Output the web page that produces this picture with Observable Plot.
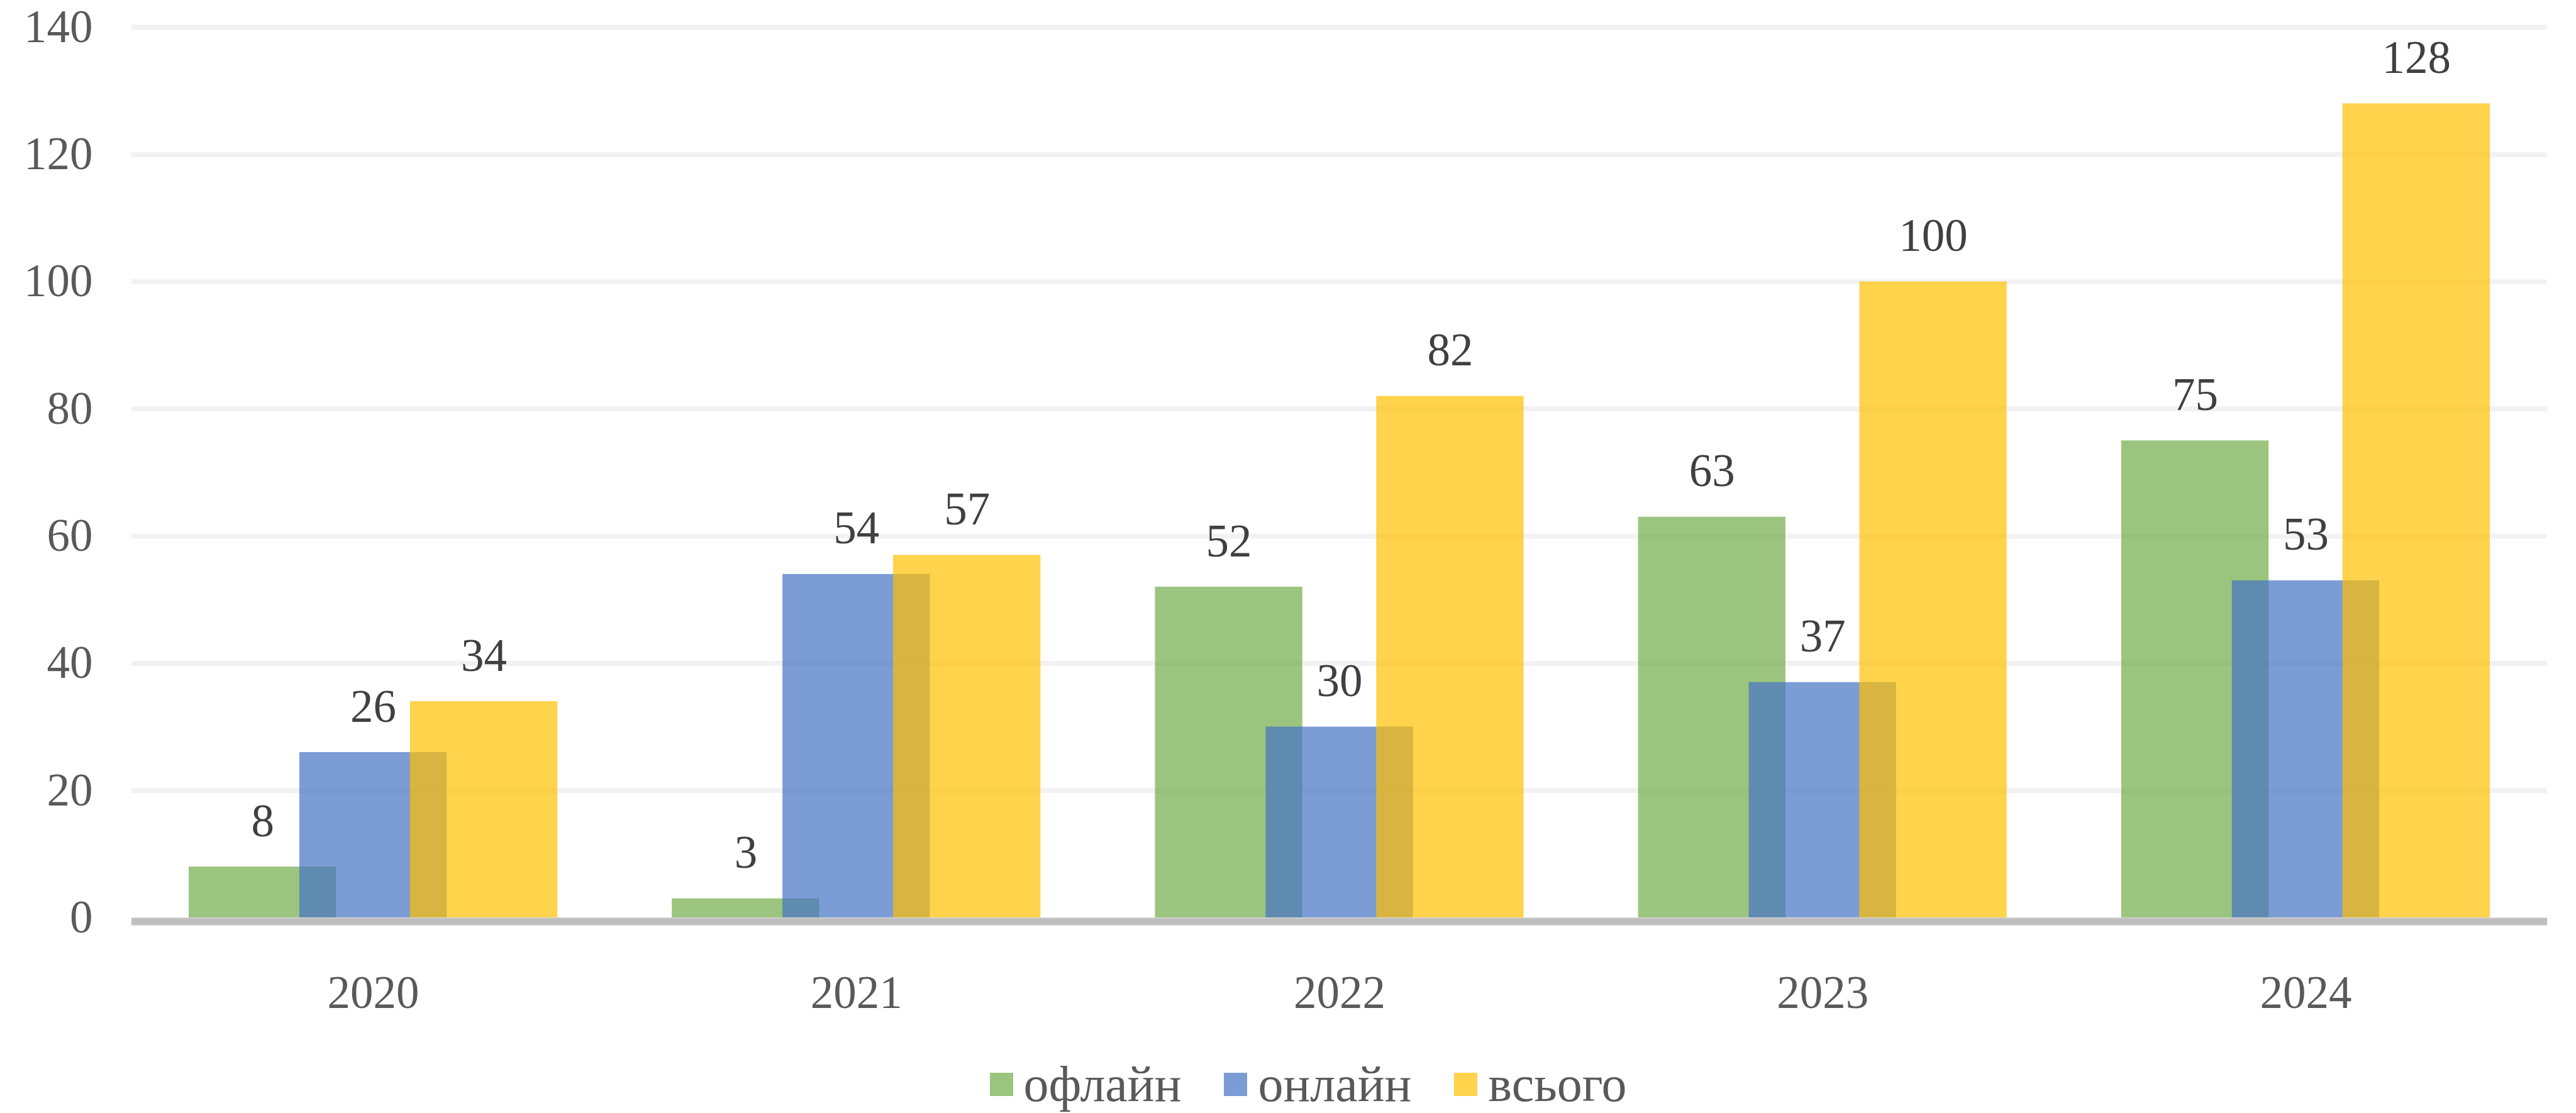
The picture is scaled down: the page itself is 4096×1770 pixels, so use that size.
<!DOCTYPE html>
<html>
<head>
<meta charset="utf-8">
<script src="https://cdn.jsdelivr.net/npm/d3@7"></script>
<script src="https://cdn.jsdelivr.net/npm/@observablehq/plot@0.6"></script>
<style>
  html, body { margin: 0; padding: 0; background: #fff; }
  #wrap { width: 4096px; height: 1770px; position: relative; overflow: hidden; }
  #legend { position: absolute; left: 64px; top: 1683px; width: 4032px; display: flex; justify-content: center; align-items: flex-start;
    font-family: "Liberation Serif", "Times New Roman", serif; font-size: 80px; line-height: 82px; color: #595959; }
  .item { display: flex; align-items: flex-start; margin: 0 34px; }
  .sw { width: 37px; height: 37px; margin-right: 17px; margin-top: 23px; }
</style>
</head>
<body>
<div id="wrap"><div id="chart"></div><div id="legend"></div></div>
<script>
const years = [2020, 2021, 2022, 2023, 2024];
const offline = [8, 3, 52, 63, 75];
const online = [26, 54, 30, 37, 53];
const total = [34, 57, 82, 100, 128];
const seriesNames = ["офлайн", "онлайн", "всього"];
const seriesColors = ["#70AD47", "#4472C4", "#FFC000"];
const yTicks = [0, 20, 40, 60, 80, 100, 120, 140];

const seriesValues = [offline, online, total];
const barOffset = 0.229, barWidth = 0.305;
const rows = [];
seriesValues.forEach((vals, s) => {
  years.forEach((yr, i) => {
    const c = yr + (s - 1) * barOffset;
    rows.push({series: seriesNames[s], s, year: yr, value: vals[i], x1: c - barWidth / 2, x2: c + barWidth / 2, xc: c});
  });
});

const font = '"Liberation Serif", "Times New Roman", serif';
const chart = Plot.plot({
  width: 4096,
  height: 1680,
  marginLeft: 209,
  marginRight: 46,
  marginTop: 43,
  marginBottom: 221,
  style: {fontFamily: font, fontSize: "73px", color: "#595959", background: "#fff"},
  x: {domain: [2019.5, 2024.5], label: null},
  y: {domain: [0, 140], label: null},
  color: {domain: seriesNames, range: seriesColors},
  marks: [
    Plot.gridY(yTicks.filter(d => d > 0), {stroke: "#F2F2F2", strokeOpacity: 1, strokeWidth: 8}),
    Plot.axisY({ticks: yTicks, label: null, tickSize: 0, tickPadding: 62, fontSize: 73, fill: "#595959"}),
    Plot.axisX({ticks: years, label: null, tickFormat: d => String(d), tickSize: 0, tickPadding: 92, fontSize: 73, fill: "#595959"}),
    Plot.rectY(rows, {x1: "x1", x2: "x2", y1: 0, y2: "value", fill: "series", fillOpacity: 0.7}),
    Plot.ruleY([0], {stroke: "#BFBFBF", strokeWidth: 12, dy: 6}),
    Plot.text(rows, {x: "xc", y: "value", text: d => String(d.value), lineAnchor: "bottom", dy: -49, fill: "#404040", fontSize: 73})
  ]
});
document.getElementById("chart").appendChild(chart);

const legend = document.getElementById("legend");
seriesNames.forEach((n, i) => {
  const it = document.createElement("div");
  it.className = "item";
  const sw = document.createElement("div");
  sw.className = "sw";
  sw.style.background = seriesColors[i];
  sw.style.opacity = 0.7;
  const t = document.createElement("span");
  t.textContent = n;
  it.appendChild(sw); it.appendChild(t);
  legend.appendChild(it);
});
</script>
</body>
</html>
